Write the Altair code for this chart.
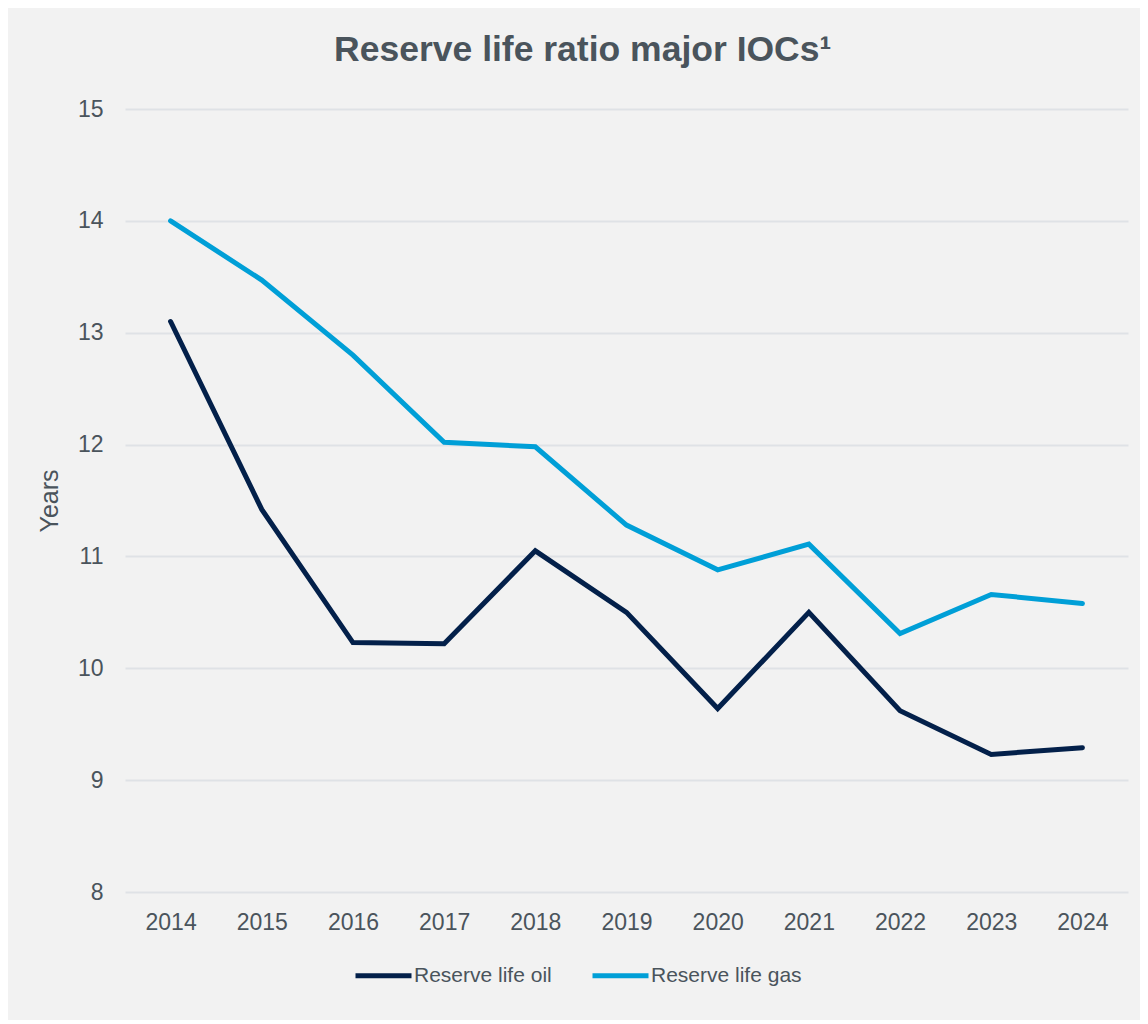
import altair as alt
import pandas as pd

years = ["2014", "2015", "2016", "2017", "2018", "2019", "2020", "2021", "2022", "2023", "2024"]
oil = [13.10, 11.42, 10.23, 10.22, 11.05, 10.50, 9.64, 10.50, 9.62, 9.23, 9.29]
gas = [14.00, 13.47, 12.80, 12.02, 11.98, 11.28, 10.88, 11.11, 10.31, 10.66, 10.58]
series = ["Reserve life oil", "Reserve life gas"]
colors = ["#03204a", "#009fd7"]
y_ticks = [8, 9, 10, 11, 12, 13, 14, 15]

rows = []
for name, vals in zip(series, [oil, gas]):
    for yr, v in zip(years, vals):
        rows.append({"year": yr, "value": v, "series": name})
df = pd.DataFrame(rows)

FONT = "Liberation Sans"
TXT = "#4a545c"

chart = (
    alt.Chart(df)
    .mark_line(strokeWidth=5, strokeCap="round")
    .encode(
        x=alt.X(
            "year:O",
            sort=years,
            title=None,
            axis=alt.Axis(
                labelAngle=0,
                labelFontSize=23,
                labelColor=TXT,
                labelFont=FONT,
                labelPadding=19,
                ticks=False,
                domain=False,
                grid=False,
            ),
        ),
        y=alt.Y(
            "value:Q",
            title="Years",
            scale=alt.Scale(domain=[8, 15], nice=False, zero=False),
            axis=alt.Axis(
                values=y_ticks,
                labelFontSize=23,
                labelColor=TXT,
                labelFont=FONT,
                labelPadding=22,
                ticks=False,
                domain=False,
                grid=True,
                gridColor="#dfe2e6",
                gridWidth=2,
                titleFontSize=25,
                titleFont=FONT,
                titleColor=TXT,
                titleFontWeight="normal",
                titlePadding=15,
            ),
        ),
        color=alt.Color(
            "series:N",
            sort=series,
            scale=alt.Scale(domain=series, range=colors),
            legend=alt.Legend(
                title=None,
                orient="none",
                direction="horizontal",
                legendX=228,
                legendY=836,
                symbolType="stroke",
                symbolStrokeWidth=5,
                symbolSize=3136,
                labelFontSize=21,
                labelFont=FONT,
                labelColor=TXT,
                labelOffset=0,
                columnPadding=30,
                padding=0,
            ),
        ),
    )
    .properties(
        width=1003,
        height=783,
        background="#f2f2f2",
        padding={"left": 117, "top": 101, "right": 12, "bottom": 128},
        autosize=alt.AutoSizeParams(type="none"),
        title=alt.TitleParams(
            "Reserve life ratio major IOCs¹",
            fontSize=35.5,
            font=FONT,
            fontWeight="bold",
            color=TXT,
            anchor="middle",
            frame="bounds",
            offset=30,
        ),
    )
    .configure_view(stroke=None)
)

chart.save("out.html", embed_options={"renderer": "svg", "actions": False})
